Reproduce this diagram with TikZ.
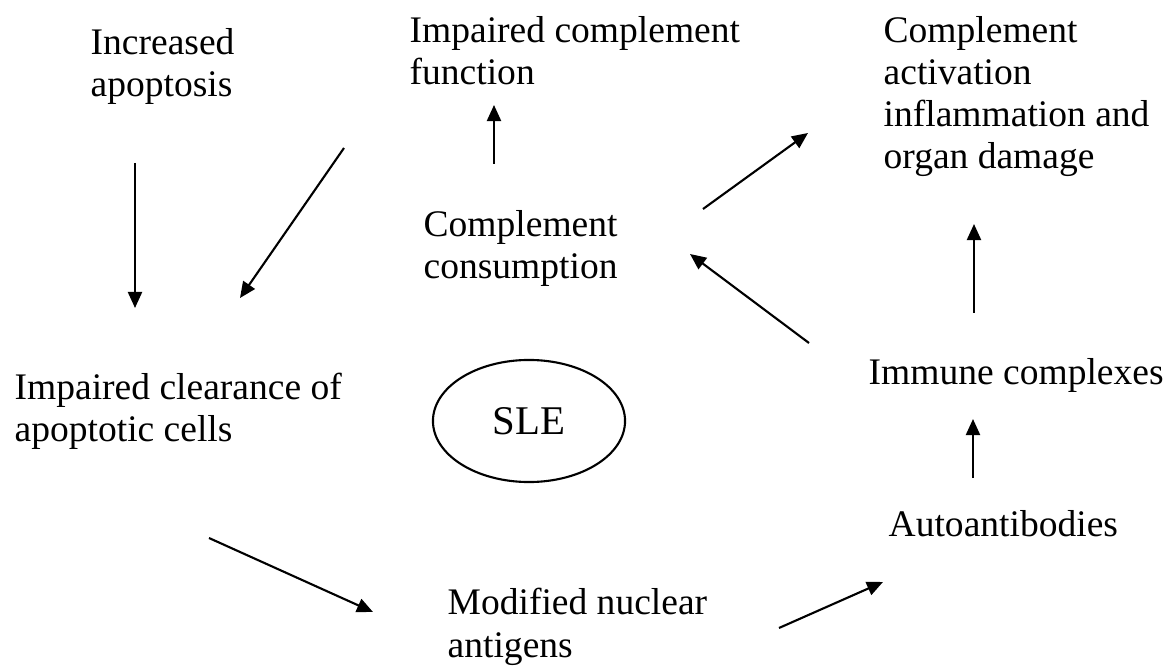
\documentclass[tikz,border=0pt]{standalone}
\usepackage{fontspec}
\setmainfont{Liberation Serif}
\usetikzlibrary{arrows.meta,shapes.geometric}
\begin{document}
\begin{tikzpicture}[x=0.01cm,y=-0.01cm,
    lbl/.style={anchor=base west,inner sep=0pt,align=left,font=\fontsize{10.67pt}{11.95pt}\selectfont},
    arr/.style={-{Triangle[length=0.16cm,width=0.14cm]},line width=0.6pt}]
    \useasboundingbox (0,0) rectangle (1166,667);
    % base anchor = last line
    \node[lbl] (inc) at (90,97) {Increased\\apoptosis};
    \node[lbl] (clr) at (14,442) {Impaired clearance of\\apoptotic cells};
    \node[lbl] (icf) at (409,85) {Impaired complement\\function};
    \node[lbl] (cc) at (423,279) {Complement\\consumption};
    \node[lbl] (ca) at (883,169) {Complement\\activation\\inflammation and\\organ damage};
    \node[lbl] (ic) at (868,385) {Immune complexes};
    \node[lbl] (aab) at (888,537) {Autoantibodies};
    \node[lbl] (mna) at (447,657) {Modified nuclear\\antigens};
    \node[draw,ellipse,line width=0.6pt,minimum width=1.92cm,minimum height=1.22cm,
        font=\fontsize{11.6pt}{13pt}\selectfont] (sle) at (529,421) {SLE};
    % arrow ends
    \coordinate (a0) at (135,163); \coordinate (a1) at (135,308);
    \coordinate (b0) at (344,148); \coordinate (b1) at (240,298);
    \coordinate (c0) at (494,164); \coordinate (c1) at (494,105);
    \coordinate (d0) at (703,209); \coordinate (d1) at (808,133);
    \coordinate (e0) at (809,343); \coordinate (e1) at (690,254);
    \coordinate (f0) at (974,313); \coordinate (f1) at (974,224);
    \coordinate (g0) at (973,478); \coordinate (g1) at (973,419);
    \coordinate (h0) at (209,538); \coordinate (h1) at (373,612);
    \coordinate (i0) at (779,628); \coordinate (i1) at (883,582);
    \foreach \p in {a,b,c,d,e,f,g,h,i}
        \draw[arr] (\p0) -- (\p1);
\end{tikzpicture}
\end{document}
